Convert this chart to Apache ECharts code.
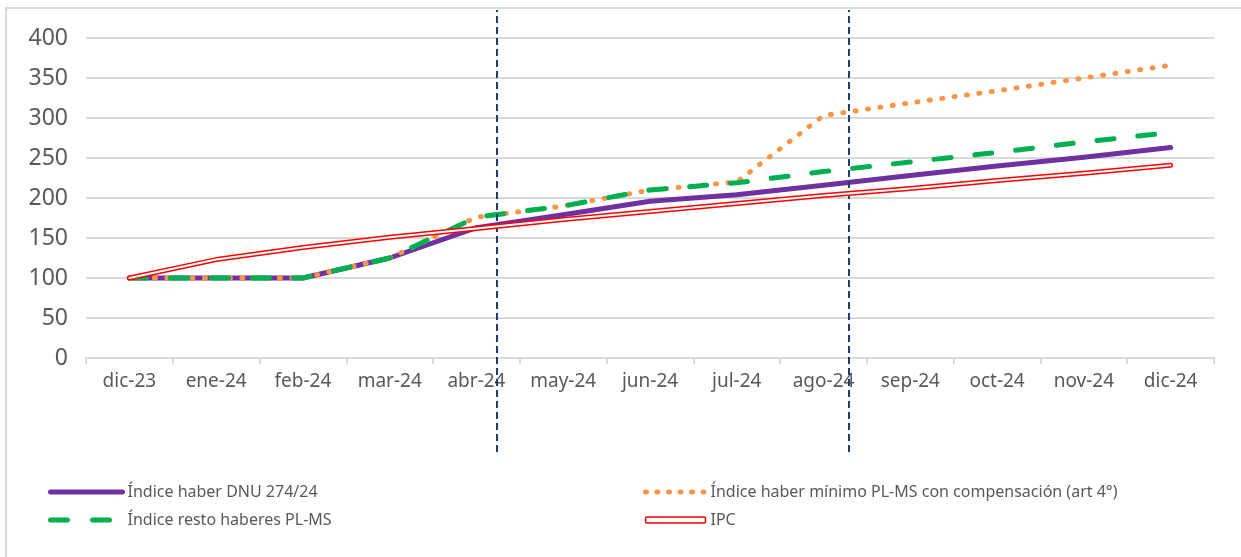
<!DOCTYPE html>
<html>
<head>
<meta charset="utf-8">
<script src="https://cdn.jsdelivr.net/npm/echarts@6/dist/echarts.min.js"></script>
<style>
  html, body { margin: 0; padding: 0; background: #fff; }
  #chart { width: 1241px; height: 557px; }
</style>
</head>
<body>
<div id="chart"></div>
<script>
const meses = ['dic-23', 'ene-24', 'feb-24', 'mar-24', 'abr-24', 'may-24', 'jun-24',
               'jul-24', 'ago-24', 'sep-24', 'oct-24', 'nov-24', 'dic-24'];

const haberDnu    = [100, 100, 100, 125, 163, 179, 196, 204, 216, 228, 240, 251, 263];
const haberMinimo = [100, 100, 100, 125, 176, 190, 210, 220, 303, 319, 334, 350, 366];
const restoHaber  = [100, 100, 100, 125, 176, 190, 210, 219, 233, 245, 257, 270, 282];
const ipc         = [100, 123, 138, 151, 162, 173, 183, 193, 203, 212, 222, 231, 241];

// vertical markers, in category units (between abr/may and ago/sep)
const cortes = [4.23, 8.29];

const yTicks = { min: 0, max: 400, interval: 50 };

const nombres = {
    dnu: 'Índice haber DNU 274/24',
    minimo: 'Índice haber mínimo PL-MS con compensación (art 4°)',
    resto: 'Índice resto haberes PL-MS',
    ipc: 'IPC'
};

const font = '"Noto Sans", sans-serif';
const gris = '#595959';

// legend line icons draw a centre dot for line series; hide it
const sinPunto = { opacity: 0 };

const chart = echarts.init(document.getElementById('chart'));

chart.setOption({
    animation: false,
    textStyle: { fontFamily: font },
    graphic: [{
        type: 'rect',
        shape: { x: 6, y: 8, width: 1300, height: 620 },
        style: { fill: 'none', stroke: '#d9d9d9', lineWidth: 2 },
        silent: true
    }],
    grid: [
        { left: 86, right: 27, top: 38, bottom: 199 },
        { left: 86, right: 27, top: 10, bottom: 105 }
    ],
    legend: [
        {
            left: 43, top: 479, orient: 'vertical', itemGap: 12,
            itemWidth: 72, itemHeight: 6,
            textStyle: { fontSize: 16, color: gris, fontFamily: font },
            data: [
                { name: nombres.dnu, itemStyle: sinPunto, lineStyle: { width: 5, cap: 'round' } },
                { name: nombres.resto, itemStyle: sinPunto, lineStyle: { width: 5, type: [17, 25], cap: 'round' } }
            ]
        },
        {
            left: 638, top: 479, orient: 'vertical', itemGap: 12,
            itemWidth: 60, itemHeight: 6,
            textStyle: { fontSize: 16, color: gris, fontFamily: font },
            data: [
                { name: nombres.minimo, itemStyle: sinPunto, lineStyle: { width: 5, type: [1, 10.5], cap: 'round' } },
                { name: nombres.ipc, icon: 'roundRect',
                  itemStyle: { color: '#fff', borderColor: '#ff0000', borderWidth: 1.5 } }
            ]
        }
    ],
    xAxis: [
        {
            type: 'category', gridIndex: 0, data: meses, boundaryGap: true,
            axisLine: { lineStyle: { color: '#d9d9d9', width: 2 } },
            axisTick: { show: true, length: 6, lineStyle: { color: '#d9d9d9', width: 2 } },
            axisLabel: { color: gris, fontSize: 19, margin: 14, fontFamily: font }
        },
        {
            type: 'value', gridIndex: 1, min: -0.5, max: meses.length - 0.5, show: false
        }
    ],
    yAxis: [
        {
            type: 'value', gridIndex: 0, min: yTicks.min, max: yTicks.max, interval: yTicks.interval,
            axisLine: { show: false }, axisTick: { show: false },
            splitLine: { lineStyle: { color: '#d9d9d9', width: 2 } },
            axisLabel: { color: gris, fontSize: 23, margin: 18, fontFamily: font }
        },
        { type: 'value', gridIndex: 1, min: 0, max: 1, show: false }
    ],
    series: [
        {
            name: nombres.dnu, type: 'line', data: haberDnu, symbol: 'none',
            lineStyle: { color: '#7030a0', width: 5, cap: 'round', join: 'round' },
            itemStyle: { color: '#7030a0' }, z: 2
        },
        {
            name: nombres.minimo, type: 'line', data: haberMinimo, symbol: 'none',
            lineStyle: { color: '#f79646', width: 5, type: [1, 11.5], cap: 'round' },
            itemStyle: { color: '#f79646' }, z: 3
        },
        {
            name: nombres.resto, type: 'line', data: restoHaber, symbol: 'none',
            lineStyle: { color: '#00b050', width: 5, type: [17, 24], cap: 'round' },
            itemStyle: { color: '#00b050' }, z: 4
        },
        {
            name: nombres.ipc, type: 'line', data: ipc, symbol: 'none',
            lineStyle: { color: '#ff0000', width: 5, cap: 'round', join: 'round' },
            itemStyle: { color: '#ff0000' }, z: 5
        },
        {
            name: 'ipc-interior', type: 'line', data: ipc, symbol: 'none',
            lineStyle: { color: '#ffffff', width: 2, cap: 'round', join: 'round' },
            itemStyle: { color: '#ffffff' }, z: 6, silent: true
        },
        {
            name: 'cortes', type: 'line', xAxisIndex: 1, yAxisIndex: 1, data: [],
            markLine: {
                silent: true, symbol: 'none', label: { show: false },
                lineStyle: { color: '#203f70', width: 2, type: [7, 4] },
                data: cortes.map(x => ({ xAxis: x }))
            }
        }
    ]
});
</script>
</body>
</html>
